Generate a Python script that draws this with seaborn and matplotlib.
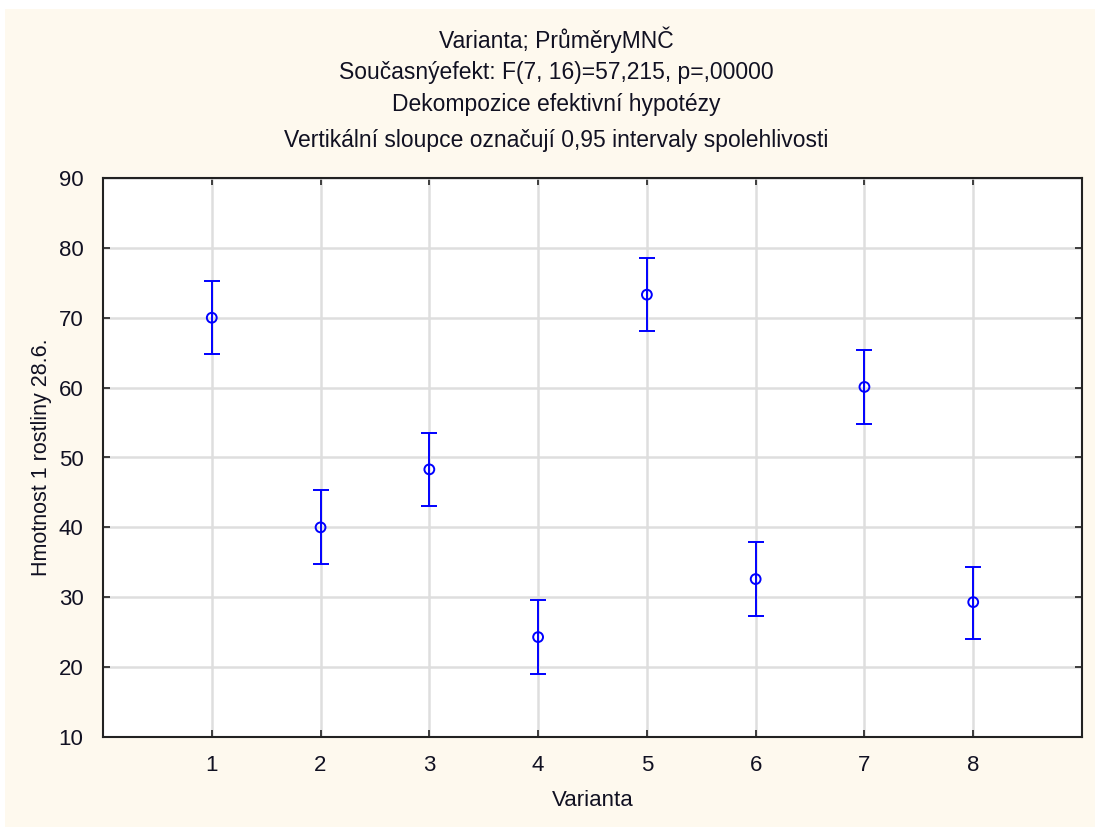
import matplotlib
matplotlib.use("Agg")
import matplotlib.pyplot as plt
import seaborn as sns
import pandas as pd
from matplotlib.patches import Rectangle

# data
varianta = [1, 2, 3, 4, 5, 6, 7, 8]
prumer = [70.0, 40.0, 48.3, 24.3, 73.3, 32.6, 60.1, 29.3]
dolni = [64.8, 34.7, 43.0, 19.0, 68.1, 27.3, 54.8, 24.0]
horni = [75.2, 45.3, 53.5, 29.6, 78.5, 37.9, 65.4, 34.4]

title_lines = [
    "Varianta; PrůměryMNČ",
    "Současnýefekt: F(7, 16)=57,215, p=,00000",
    "Dekompozice efektivní hypotézy",
    "Vertikální sloupce označují 0,95 intervaly spolehlivosti",
]
title_y = [40, 72, 104, 140]

df = pd.DataFrame({"Varianta": varianta, "Prumer": prumer,
                   "lo": dolni, "hi": horni})

sns.set_theme(style="white")
plt.rcParams["font.family"] = ["Liberation Sans", "DejaVu Sans"]

cream = "#fef9ee"
blue = "#0000ff"
txt = "#111122"

fig = plt.figure(figsize=(10.95, 8.27), dpi=100)
fig.patch.set_facecolor("white")
fig.patches.append(Rectangle((5 / 1095, 0), 1, 1 - 9 / 827,
                             transform=fig.transFigure,
                             facecolor=cream, edgecolor="none", zorder=-10))

ax = fig.add_axes([103 / 1095, 1 - 737 / 827, (1082 - 103) / 1095, (737 - 178) / 827])
ax.set_facecolor("white")

# error bars
ax.errorbar(df["Varianta"], df["Prumer"],
            yerr=[df["Prumer"] - df["lo"], df["hi"] - df["Prumer"]],
            fmt="none", ecolor=blue, elinewidth=1.4, capsize=6, capthick=1.4,
            zorder=3)

sns.scatterplot(data=df, x="Varianta", y="Prumer", ax=ax,
                marker="o", s=50, facecolor="none", edgecolor=blue,
                linewidth=1.4, zorder=4, legend=False)

ax.set_xlim(0, 9)
ax.set_ylim(10, 90)
ax.set_xticks(varianta)
ax.set_yticks(range(10, 91, 10))

ax.grid(True, color="#dedede", linewidth=1.8, zorder=0)
ax.set_axisbelow(True)

for s in ax.spines.values():
    s.set_visible(True)
    s.set_color("#222222")
    s.set_linewidth(1.5)

ax.tick_params(direction="in", length=5, width=1.2, color="#222222",
               top=True, right=True, bottom=True, left=True,
               labelsize=16, labelcolor=txt)
ax.tick_params(axis="x", pad=13)
ax.tick_params(axis="y", pad=14)

ax.set_xlabel("Varianta", fontsize=16, color=txt, labelpad=10)
ax.set_ylabel("Hmotnost 1 rostliny 28.6.", fontsize=15.5, color=txt, labelpad=5)

for line, y in zip(title_lines, title_y):
    fig.text(556 / 1095, 1 - y / 827, line, ha="center",
             va="center", fontsize=16.5, color=txt)

plt.savefig("out.png", dpi=100, facecolor=fig.get_facecolor())
